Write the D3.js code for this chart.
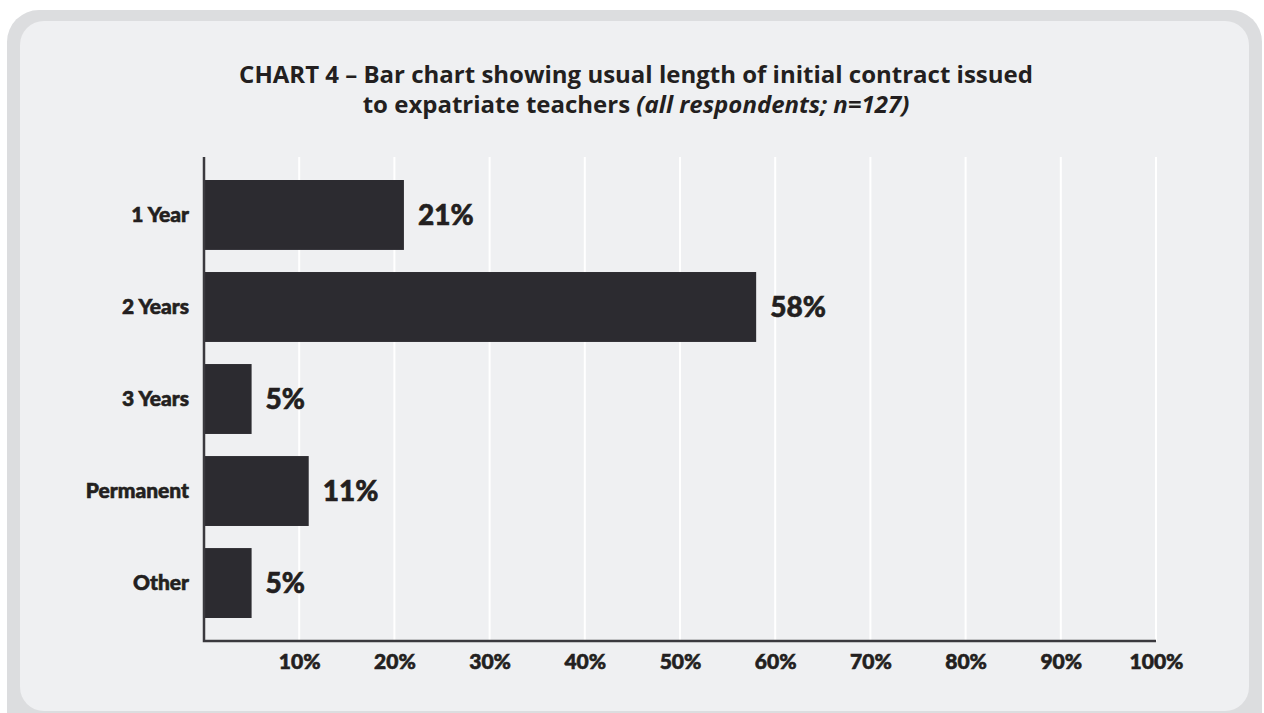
<!DOCTYPE html>
<html>
<head>
<meta charset="utf-8">
<script src="https://cdn.jsdelivr.net/npm/d3@7/dist/d3.min.js"></script>
<style>
  html, body { margin: 0; padding: 0; background: #ffffff; }
  svg { display: block; }
</style>
</head>
<body>
<svg id="chart" width="1264" height="713"></svg>
<script>
// Contract length categories and share of respondents (%)
const categories = ["1 Year", "2 Years", "3 Years", "Permanent", "Other"];
const shares = [21, 58, 5, 11, 5];
const ticks = [10, 20, 30, 40, 50, 60, 70, 80, 90, 100];
const titleLine1 = "CHART 4 \u2013 Bar chart showing usual length of initial contract issued";
const titleLine2 = "to expatriate teachers ";
const titleLine2Italic = "(all respondents; n=127)";

const svg = d3.select("#chart");
const ink = "#231f20";

// Card background with rounded border
svg.append("rect")
  .attr("x", 7).attr("y", 10).attr("width", 1255).attr("height", 740)
  .attr("rx", 32).attr("fill", "#dcdddf");
svg.append("rect")
  .attr("x", 20).attr("y", 21).attr("width", 1229).attr("height", 690)
  .attr("rx", 24).attr("fill", "#eff0f2");

// Title
const title = svg.append("g")
  .attr("font-family", "'Open Sans', sans-serif")
  .attr("font-weight", 700)
  .attr("font-size", 24)
  .attr("fill", ink)
  .attr("text-anchor", "middle");
title.append("text").attr("x", 636).attr("y", 83).text(titleLine1);
const t2 = title.append("text").attr("x", 636).attr("y", 113);
t2.append("tspan").text(titleLine2);
t2.append("tspan").attr("font-style", "italic").text(titleLine2Italic);

// Scales
const x = d3.scaleLinear().domain([0, 100]).range([204, 1156]);
const y = d3.scaleBand().domain(categories).range([157, 641])
  .paddingInner(0.24).paddingOuter(0.25);

// Heavy label style
function heavy(sel, size) {
  sel.attr("font-family", "Lato, sans-serif")
    .attr("font-weight", 900)
    .attr("font-size", size)
    .attr("fill", ink)
    .attr("stroke", ink)
    .attr("stroke-width", 0.6)
    .attr("paint-order", "stroke");
}

// Vertical gridlines
svg.append("g").selectAll("line")
  .data(ticks)
  .join("line")
  .attr("x1", d => x(d)).attr("x2", d => x(d))
  .attr("y1", 157).attr("y2", 641)
  .attr("stroke", "#ffffff").attr("stroke-width", 2);

// Bars
svg.append("g").selectAll("rect")
  .data(categories)
  .join("rect")
  .attr("x", x(0))
  .attr("y", d => y(d))
  .attr("width", (d, i) => x(shares[i]) - x(0))
  .attr("height", y.bandwidth())
  .attr("fill", "#2c2b30");

// Value labels
svg.append("g").selectAll("text")
  .data(categories)
  .join("text")
  .attr("x", (d, i) => x(shares[i]) + 14)
  .attr("y", d => y(d) + y.bandwidth() / 2)
  .attr("dy", "0.36em")
  .call(heavy, 28)
  .text((d, i) => shares[i] + "%");

// Category axis
const yAxis = d3.axisLeft(y).tickSize(0).tickPadding(15);
const gy = svg.append("g").attr("transform", `translate(${x(0)},0)`).call(yAxis);
gy.select(".domain").remove();
gy.selectAll("text").call(heavy, 21);

// Value axis
const xAxis = d3.axisBottom(x).tickValues(ticks).tickSize(0).tickPadding(13)
  .tickFormat(d => d + "%");
const gx = svg.append("g").attr("transform", "translate(0,641)").call(xAxis);
gx.select(".domain").remove();
gx.selectAll("text").call(heavy, 21);

// Axis lines
svg.append("path")
  .attr("d", `M${x(0)},157V641H${x(100)}`)
  .attr("fill", "none")
  .attr("stroke", "#3a393e")
  .attr("stroke-width", 2.5);
</script>
</body>
</html>
